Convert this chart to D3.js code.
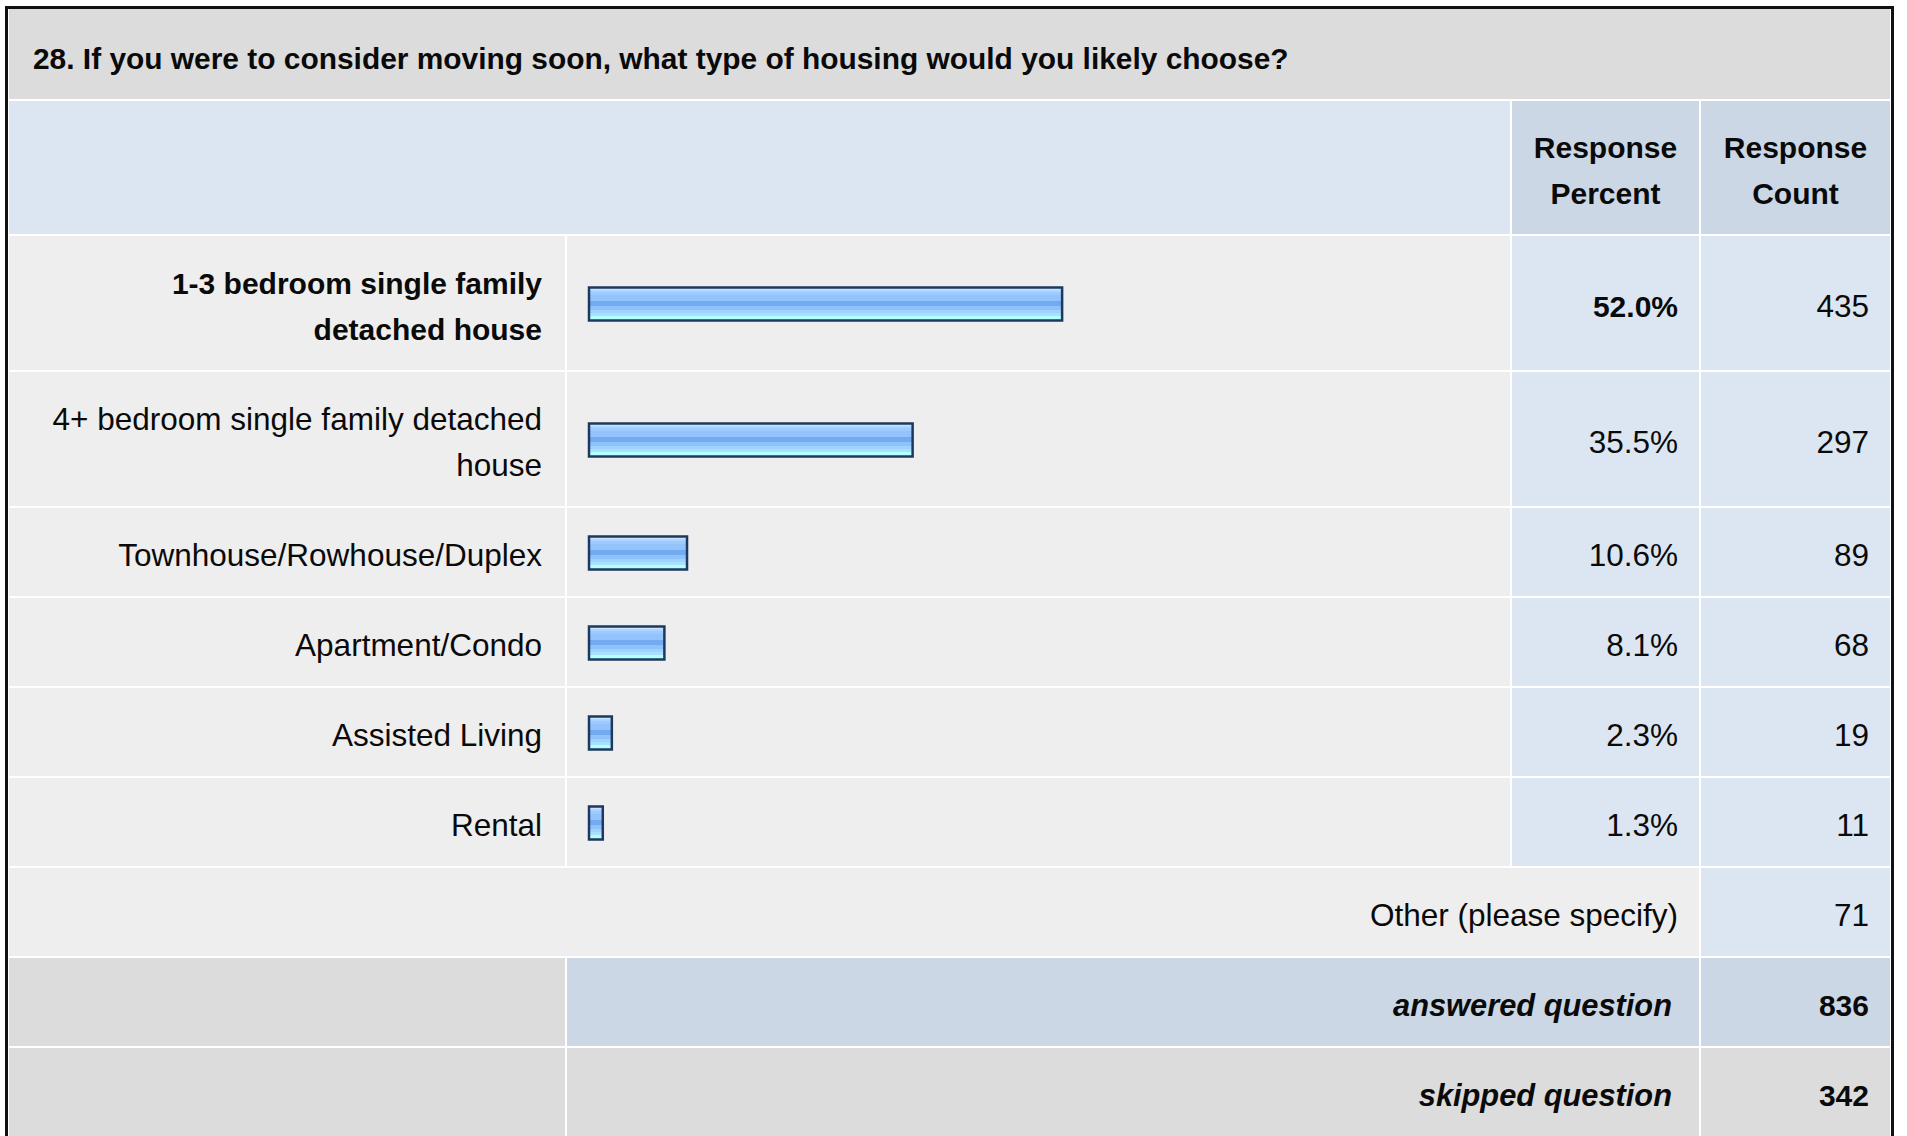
<!DOCTYPE html>
<html>
<head>
<meta charset="utf-8">
<script src="https://cdn.jsdelivr.net/npm/d3@7/dist/d3.min.js"></script>
<style>
  html, body { margin: 0; padding: 0; background: #ffffff; }
  svg { display: block; }
  text { font-family: "Liberation Sans", Arial, Helvetica, sans-serif; fill: #0a0a0a; }
</style>
</head>
<body>
<svg id="chart" width="1907" height="1136"></svg>
<script>
// ---- data ----
const questionTitle = "28. If you were to consider moving soon, what type of housing would you likely choose?";
const headerPercent = ["Response", "Percent"];
const headerCount = ["Response", "Count"];
const categories = [
  "1-3 bedroom single family\ndetached house",
  "4+ bedroom single family detached\nhouse",
  "Townhouse/Rowhouse/Duplex",
  "Apartment/Condo",
  "Assisted Living",
  "Rental"
];
const percents = [52.0, 35.5, 10.6, 8.1, 2.3, 1.3];
const counts = [435, 297, 89, 68, 19, 11];
const otherLabel = "Other (please specify)";
const otherCount = 71;
const summaryLabels = ["answered question", "skipped question"];
const summaryCounts = [836, 342];

// ---- layout ----
const svg = d3.select("#chart");
const COL = [ {x: 9, w: 556}, {x: 567, w: 943}, {x: 1512, w: 187}, {x: 1701, w: 189} ];
const GAP = 2;
const C = {
  title: "#dcdcdc", headBlue: "#dce6f2", headDark: "#cbd7e5",
  rowGray: "#eeeeee", rowBlue: "#dce6f2", sumGray: "#dcdcdc", sumBlue: "#cbd7e5"
};
const BOLD = 30, REG = 31.5, LINE = 46;

// gradient for bars
const defs = svg.append("defs");
const grad = defs.append("linearGradient").attr("id", "barGrad")
  .attr("x1", 0).attr("y1", 0).attr("x2", 0).attr("y2", 1);
const bands = [
  [0.00, 0.07, "#c8e4ff"], [0.07, 0.15, "#acd5ff"], [0.15, 0.24, "#9ecbff"],
  [0.24, 0.42, "#92c3fc"], [0.42, 0.57, "#74aaf0"], [0.57, 0.67, "#8ec2fa"],
  [0.67, 0.76, "#9ed2ff"], [0.76, 0.85, "#aae0ff"], [0.85, 1.00, "#b4ffff"]
];
bands.forEach(b => {
  grad.append("stop").attr("offset", b[0]).attr("stop-color", b[2]);
  grad.append("stop").attr("offset", b[1]).attr("stop-color", b[2]);
});

const spanX = (a, b) => ({ x: COL[a].x, w: COL[b].x + COL[b].w - COL[a].x });
function cell(a, b, y, h, fill) {
  const s = spanX(a, b);
  svg.append("rect").attr("x", s.x).attr("y", y).attr("width", s.w).attr("height", h).attr("fill", fill);
}
function txt(x, y, str, opts) {
  const t = svg.append("text").attr("x", x).attr("y", y).text(str)
    .attr("font-size", opts.size || REG)
    .attr("text-anchor", opts.anchor || "start");
  if (opts.bold) t.attr("font-weight", "bold");
  if (opts.italic) t.attr("font-style", "italic");
  return t;
}

// title row
let y = 9;
const titleH = 90;
cell(0, 3, y, titleH, C.title);
txt(33, y + titleH / 2 + 15, questionTitle, {size: 29.9, bold: true});
y += titleH + GAP;

// header row
const headH = 133;
cell(0, 1, y, headH, C.headBlue);
cell(2, 2, y, headH, C.headDark);
cell(3, 3, y, headH, C.headDark);
const hc = y + headH / 2 + 13;
[[2, headerPercent], [3, headerCount]].forEach(([ci, lines]) => {
  const cx = COL[ci].x + COL[ci].w / 2;
  lines.forEach((l, i) => txt(cx, hc + (i - (lines.length - 1) / 2) * LINE, l, {size: BOLD, bold: true, anchor: "middle"}));
});
y += headH + GAP;

// bar scale
const x = d3.scaleLinear().domain([0, 100]).range([0, 906]);
const barX0 = 589;
const maxIdx = percents.indexOf(d3.max(percents));

categories.forEach((cat, i) => {
  const lines = cat.split("\n");
  const h = 42 + LINE * lines.length;
  cell(0, 0, y, h, C.rowGray);
  cell(1, 1, y, h, C.rowGray);
  cell(2, 2, y, h, C.rowBlue);
  cell(3, 3, y, h, C.rowBlue);
  const cy = y + h / 2;
  const bold = i === maxIdx;
  const size = bold ? BOLD : REG;
  lines.forEach((l, k) => txt(542, cy + 13.5 + (k - (lines.length - 1) / 2) * LINE, l, {size, bold, anchor: "end"}));
  svg.append("rect")
    .attr("x", barX0).attr("y", cy + 1 - 16.5)
    .attr("width", x(percents[i]) + 2).attr("height", 33)
    .attr("fill", "url(#barGrad)")
    .attr("stroke", "#1e3960").attr("stroke-width", 2.5);
  txt(1678, cy + 13.5, d3.format(".1f")(percents[i]) + "%", {size, bold, anchor: "end"});
  txt(1869, cy + 13.5, counts[i], {size: REG, anchor: "end"});
  y += h + GAP;
});

// other row
const oh = 88;
cell(0, 2, y, oh, C.rowGray);
cell(3, 3, y, oh, C.rowBlue);
txt(1678, y + oh / 2 + 13.5, otherLabel, {size: REG, anchor: "end"});
txt(1869, y + oh / 2 + 13.5, otherCount, {size: REG, anchor: "end"});
y += oh + GAP;

// summary rows
summaryLabels.forEach((lab, i) => {
  const h = 88;
  const fillMid = i === 0 ? C.sumBlue : C.sumGray;
  cell(0, 0, y, h, C.sumGray);
  cell(1, 2, y, h, fillMid);
  cell(3, 3, y, h, fillMid);
  txt(1672, y + h / 2 + 13.5, lab, {size: 30.8, bold: true, italic: true, anchor: "end"});
  txt(1869, y + h / 2 + 13.5, summaryCounts[i], {size: BOLD, bold: true, anchor: "end"});
  y += h + GAP;
});

// outer border
svg.append("rect").attr("x", 6.5).attr("y", 7.5).attr("width", 1886).attr("height", 1140)
  .attr("fill", "none").attr("stroke", "#111").attr("stroke-width", 3);
</script>
</body>
</html>
